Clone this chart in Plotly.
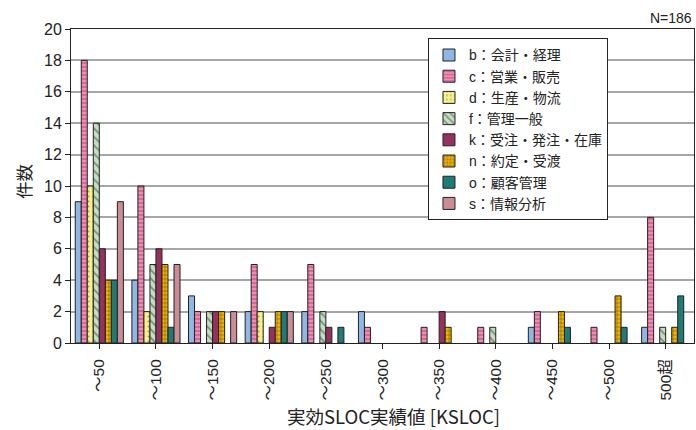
import plotly.graph_objects as go

categories = ["～50", "～100", "～150", "～200", "～250", "～300", "～350", "～400", "～450", "～500", "500超"]

series_names = ["b：会計・経理", "c：営業・販売", "d：生産・物流", "f：管理一般",
                "k：受注・発注・在庫", "n：約定・受渡", "o：顧客管理", "s：情報分析"]

x_title = "実効SLOC実績値 [KSLOC]"
y_title = "件数"

b_vals = [9, 4, 3, 2, 2, 2, 0, 0, 1, 0, 1]
c_vals = [18, 10, 2, 5, 5, 1, 1, 1, 2, 1, 8]
d_vals = [10, 2, 0, 2, 0, 0, 0, 0, 0, 0, 0]
f_vals = [14, 5, 2, 0, 2, 0, 0, 1, 0, 0, 1]
k_vals = [6, 6, 2, 1, 1, 0, 2, 0, 0, 0, 0]
n_vals = [4, 5, 2, 2, 0, 0, 1, 0, 2, 3, 1]
o_vals = [4, 1, 0, 2, 1, 0, 0, 0, 1, 1, 3]
s_vals = [9, 5, 2, 2, 0, 0, 0, 0, 0, 0, 0]

all_vals = [b_vals, c_vals, d_vals, f_vals, k_vals, n_vals, o_vals, s_vals]

colors = ["#8DB8E6", "#F08CB4", "#F6F08A", "#C2E0C0", "#96305F", "#F2B400", "#1F7A78", "#CC8C96"]
patterns = [
    dict(shape=""),
    dict(shape="-", fgcolor="#9A2E5A", size=4, solidity=0.35),
    dict(shape=".", fgcolor="#555533", size=5, solidity=0.15),
    dict(shape="\\", fgcolor="#333333", size=6, solidity=0.3),
    dict(shape=""),
    dict(shape="+", fgcolor="#3A2A00", size=4, solidity=0.35),
    dict(shape=""),
    dict(shape=""),
]

fig = go.Figure()
for name, vals, col, pat in zip(series_names, all_vals, colors, patterns):
    fig.add_trace(go.Bar(
        x=categories, y=[v if v else None for v in vals], name=name,
        marker=dict(color=col, line=dict(color="#222222", width=1), pattern=pat),
    ))

fig.update_layout(
    width=696, height=430,
    barmode="group", bargap=0.15, bargroupgap=0,
    plot_bgcolor="white", paper_bgcolor="white",
    margin=dict(l=71, r=2, t=29, b=87),
    font=dict(family="Liberation Sans, Noto Sans CJK JP", size=14, color="#222222"),
    xaxis=dict(
        tickangle=-90, showline=True, linecolor="#222222", linewidth=1, mirror=True,
        ticks="outside", ticklen=5, tickcolor="#222222", ticklabelstandoff=4,
        tickfont=dict(size=15.5, family="Liberation Sans, Noto Sans CJK JP"),
    ),
    yaxis=dict(
        range=[0, 20], dtick=2, showgrid=True, gridcolor="#A6A6A6", gridwidth=1.5,
        showline=True, linecolor="#222222", linewidth=1, mirror=True,
        ticks="outside", ticklen=5, tickcolor="#222222",
        tickfont=dict(size=16),
        zeroline=False,
    ),
    legend=dict(
        x=0.573, y=0.97, xanchor="left", yanchor="top",
        bgcolor="white", bordercolor="#222222", borderwidth=1,
        font=dict(size=14, family="Liberation Sans, Noto Sans CJK JP"),
        tracegroupgap=0, itemwidth=30,
    ),
    annotations=[
        dict(text="N=186", x=1, y=1, xref="paper", yref="paper",
             xanchor="right", yanchor="bottom", showarrow=False,
             font=dict(size=14), yshift=1),
        dict(text=x_title, x=(393 - 71) / 623, y=(343 - 416) / 314, xref="paper", yref="paper",
             xanchor="center", yanchor="middle", showarrow=False,
             font=dict(size=18.5, family="Noto Sans CJK JP")),
        dict(text=y_title, x=(23 - 71) / 623, y=(343 - 182) / 314, xref="paper", yref="paper",
             xanchor="center", yanchor="middle", textangle=-90, showarrow=False,
             font=dict(size=17.5, family="Noto Sans CJK JP")),
    ],
)

fig.write_html("out.html", config={"displayModeBar": False},
               post_script="document.body.style.margin='0';document.body.style.overflow='hidden';")
